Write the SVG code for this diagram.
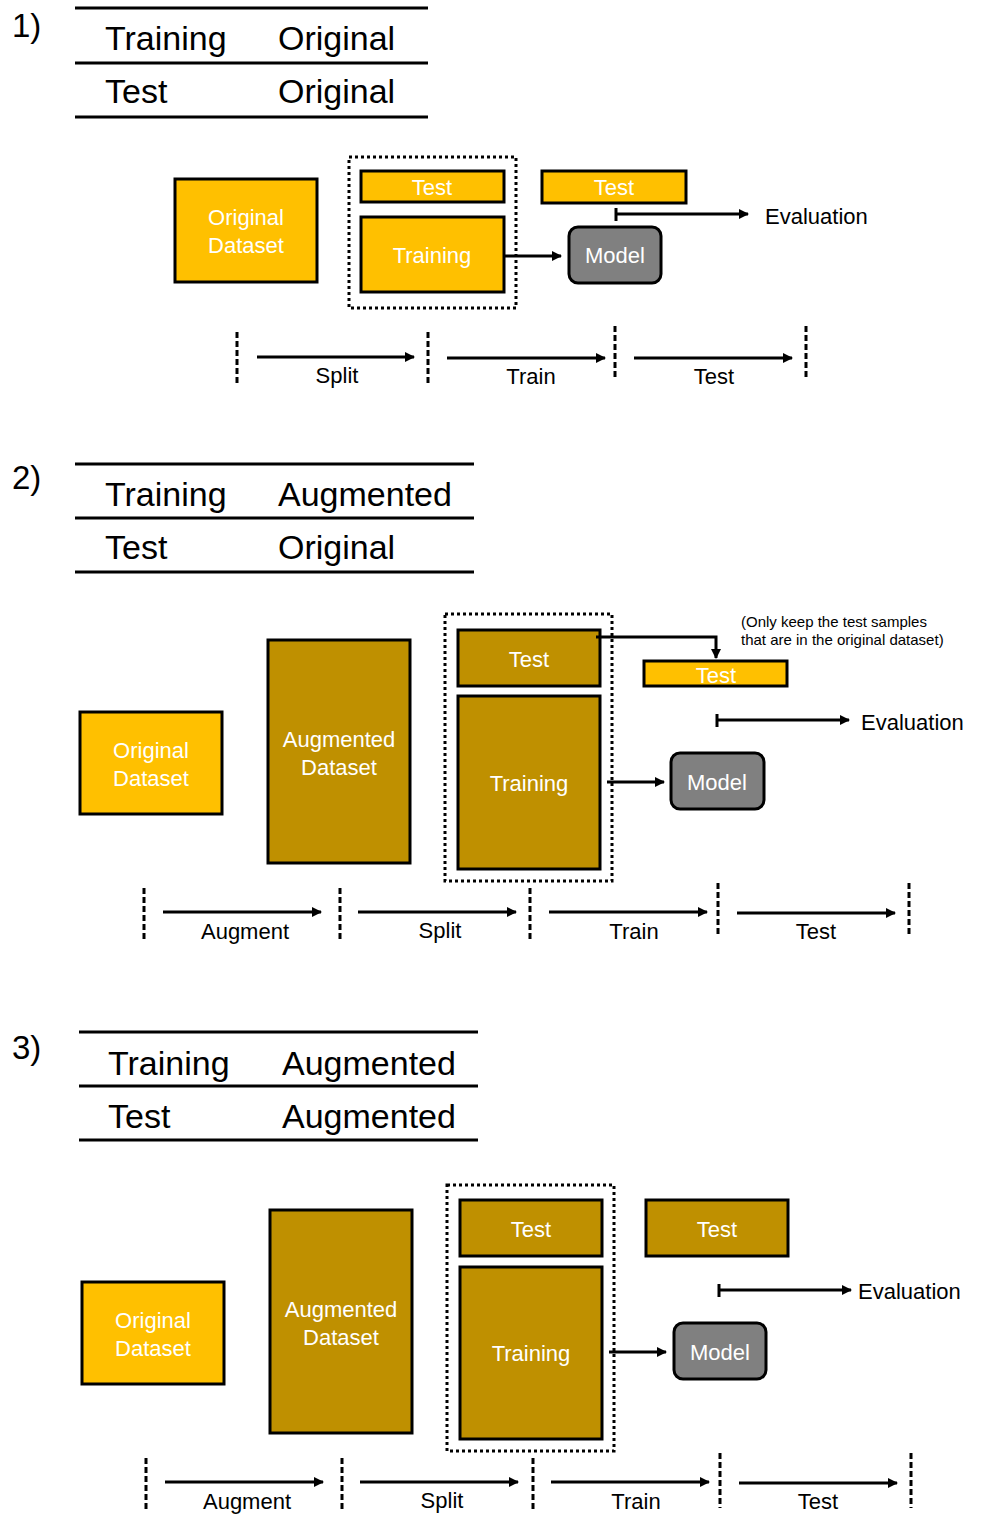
<svg xmlns="http://www.w3.org/2000/svg" width="983" height="1516" viewBox="0 0 983 1516">
<defs>
<marker id="ah" viewBox="0 0 10 10" refX="9" refY="5" markerWidth="3.4" markerHeight="3.4" orient="auto" markerUnits="strokeWidth"><path d="M0,0 L10,5 L0,10 z" fill="#000"/></marker>
<style>
text{font-family:"Liberation Sans",Arial,sans-serif;}
.num{font-size:33px;fill:#000;}
.tbl{font-size:34px;fill:#000;}
.rule{stroke:#000;stroke-width:3;}
.lt{fill:#FFC000;stroke:#000;stroke-width:3;}
.dk{fill:#BF9000;stroke:#000;stroke-width:3;}
.mdl{fill:#808080;stroke:#000;stroke-width:3;}
.bt{font-size:22px;fill:#fff;text-anchor:middle;}
.lbl{font-size:22px;fill:#000;text-anchor:middle;}
.ev{font-size:22px;fill:#000;}
.note{font-size:15px;fill:#000;}
.dot{fill:none;stroke:#000;stroke-width:3;stroke-dasharray:3 3;}
.dash{stroke:#000;stroke-width:3;stroke-dasharray:6 3;}
.arr{stroke:#000;stroke-width:3;fill:none;marker-end:url(#ah);}
.ln{stroke:#000;stroke-width:3;fill:none;}
</style>
</defs>
<rect width="983" height="1516" fill="#fff"/>

<!-- Section 1 -->
<g id="sec1-table">
<text class="num" x="12" y="37">1)</text>
<line class="rule" x1="75" y1="8" x2="428" y2="8"/>
<line class="rule" x1="75" y1="63" x2="428" y2="63"/>
<line class="rule" x1="75" y1="117" x2="428" y2="117"/>
<text class="tbl" x="105" y="50">Training</text>
<text class="tbl" x="278" y="50">Original</text>
<text class="tbl" x="105" y="103">Test</text>
<text class="tbl" x="278" y="103">Original</text>
</g>
<g id="s1-original"><rect class="lt" x="175" y="179" width="142" height="103"/><text class="bt" x="246" y="225">Original</text><text class="bt" x="246" y="253">Dataset</text></g>
<g id="s1-split"><rect class="dot" x="349" y="157" width="167" height="151"/></g>
<g id="s1-test"><rect class="lt" x="361" y="171" width="143" height="31"/><text class="bt" x="432" y="195">Test</text></g>
<g id="s1-training"><rect class="lt" x="361" y="217" width="143" height="75"/><text class="bt" x="432" y="263">Training</text></g>
<g id="s1-test2"><rect class="lt" x="542" y="171" width="144" height="32"/><text class="bt" x="614" y="195">Test</text></g>
<g id="s1-model"><rect class="mdl" x="569" y="227" width="92" height="56" rx="9"/><text class="bt" x="615" y="263">Model</text></g>
<g id="s1-eval"><text class="ev" x="765" y="224">Evaluation</text></g>
<g id="s1-timeline">
<text class="lbl" x="337" y="383">Split</text>
<text class="lbl" x="531" y="384">Train</text>
<text class="lbl" x="714" y="384">Test</text>
</g>
<g id="s1-connectors">
<line class="arr" x1="504" y1="256" x2="561" y2="256"/>
<line class="ln" x1="616" y1="208" x2="616" y2="221"/>
<line class="arr" x1="616" y1="214" x2="748" y2="214"/>
<line class="dash" x1="237" y1="332" x2="237" y2="386"/>
<line class="dash" x1="428" y1="332" x2="428" y2="386"/>
<line class="dash" x1="615" y1="326" x2="615" y2="380"/>
<line class="dash" x1="806" y1="326" x2="806" y2="380"/>
<line class="arr" x1="257" y1="357" x2="414" y2="357"/>
<line class="arr" x1="447" y1="358" x2="605" y2="358"/>
<line class="arr" x1="634" y1="358" x2="792" y2="358"/>
</g>

<!-- Section 2 -->
<g id="sec2-table">
<text class="num" x="12" y="489">2)</text>
<line class="rule" x1="75" y1="464" x2="474" y2="464"/>
<line class="rule" x1="75" y1="518" x2="474" y2="518"/>
<line class="rule" x1="75" y1="572" x2="474" y2="572"/>
<text class="tbl" x="105" y="506">Training</text>
<text class="tbl" x="278" y="506">Augmented</text>
<text class="tbl" x="105" y="559">Test</text>
<text class="tbl" x="278" y="559">Original</text>
</g>
<g id="s2-original"><rect class="lt" x="80" y="712" width="142" height="102"/><text class="bt" x="151" y="758">Original</text><text class="bt" x="151" y="786">Dataset</text></g>
<g id="s2-augmented"><rect class="dk" x="268" y="640" width="142" height="223"/><text class="bt" x="339" y="747">Augmented</text><text class="bt" x="339" y="775">Dataset</text></g>
<g id="s2-split"><rect class="dot" x="445" y="614" width="167" height="267"/></g>
<g id="s2-test"><rect class="dk" x="458" y="630" width="142" height="56"/><text class="bt" x="529" y="667">Test</text></g>
<g id="s2-training"><rect class="dk" x="458" y="696" width="142" height="173"/><text class="bt" x="529" y="791">Training</text></g>
<g id="s2-test2"><rect class="lt" x="644" y="661" width="143" height="25"/><text class="bt" x="716" y="683">Test</text></g>
<g id="s2-note"><text class="note" x="741" y="627">(Only keep the test samples</text><text class="note" x="741" y="645">that are in the original dataset)</text></g>
<g id="s2-model"><rect class="mdl" x="671" y="753" width="93" height="56" rx="9"/><text class="bt" x="717" y="790">Model</text></g>
<g id="s2-eval"><text class="ev" x="861" y="730">Evaluation</text></g>
<g id="s2-timeline">
<text class="lbl" x="245" y="939">Augment</text>
<text class="lbl" x="440" y="938">Split</text>
<text class="lbl" x="634" y="939">Train</text>
<text class="lbl" x="816" y="939">Test</text>
</g>
<g id="s2-connectors">
<path class="arr" d="M596,637 H716 V658"/>
<line class="arr" x1="607" y1="782" x2="664" y2="782"/>
<line class="ln" x1="717" y1="714" x2="717" y2="727"/>
<line class="arr" x1="717" y1="720" x2="849" y2="720"/>
<line class="dash" x1="144" y1="888" x2="144" y2="942"/>
<line class="dash" x1="340" y1="888" x2="340" y2="942"/>
<line class="dash" x1="530" y1="888" x2="530" y2="942"/>
<line class="dash" x1="718" y1="883" x2="718" y2="937"/>
<line class="dash" x1="909" y1="883" x2="909" y2="937"/>
<line class="arr" x1="163" y1="912" x2="321" y2="912"/>
<line class="arr" x1="358" y1="912" x2="516" y2="912"/>
<line class="arr" x1="549" y1="912" x2="707" y2="912"/>
<line class="arr" x1="737" y1="913" x2="895" y2="913"/>
</g>

<!-- Section 3 -->
<g id="sec3-table">
<text class="num" x="12" y="1059">3)</text>
<line class="rule" x1="79" y1="1032" x2="478" y2="1032"/>
<line class="rule" x1="79" y1="1086" x2="478" y2="1086"/>
<line class="rule" x1="79" y1="1140" x2="478" y2="1140"/>
<text class="tbl" x="108" y="1075">Training</text>
<text class="tbl" x="282" y="1075">Augmented</text>
<text class="tbl" x="108" y="1128">Test</text>
<text class="tbl" x="282" y="1128">Augmented</text>
</g>
<g id="s3-original"><rect class="lt" x="82" y="1282" width="142" height="102"/><text class="bt" x="153" y="1328">Original</text><text class="bt" x="153" y="1356">Dataset</text></g>
<g id="s3-augmented"><rect class="dk" x="270" y="1210" width="142" height="223"/><text class="bt" x="341" y="1317">Augmented</text><text class="bt" x="341" y="1345">Dataset</text></g>
<g id="s3-split"><rect class="dot" x="447" y="1185" width="167" height="266"/></g>
<g id="s3-test"><rect class="dk" x="460" y="1200" width="142" height="56"/><text class="bt" x="531" y="1237">Test</text></g>
<g id="s3-training"><rect class="dk" x="460" y="1267" width="142" height="172"/><text class="bt" x="531" y="1361">Training</text></g>
<g id="s3-test2"><rect class="dk" x="646" y="1200" width="142" height="56"/><text class="bt" x="717" y="1237">Test</text></g>
<g id="s3-model"><rect class="mdl" x="674" y="1323" width="92" height="56" rx="9"/><text class="bt" x="720" y="1360">Model</text></g>
<g id="s3-eval"><text class="ev" x="858" y="1299">Evaluation</text></g>
<g id="s3-timeline">
<text class="lbl" x="247" y="1509">Augment</text>
<text class="lbl" x="442" y="1508">Split</text>
<text class="lbl" x="636" y="1509">Train</text>
<text class="lbl" x="818" y="1509">Test</text>
</g>
<g id="s3-connectors">
<line class="arr" x1="609" y1="1352" x2="666" y2="1352"/>
<line class="ln" x1="719" y1="1284" x2="719" y2="1297"/>
<line class="arr" x1="719" y1="1290" x2="851" y2="1290"/>
<line class="dash" x1="146" y1="1458" x2="146" y2="1512"/>
<line class="dash" x1="342" y1="1458" x2="342" y2="1512"/>
<line class="dash" x1="533" y1="1458" x2="533" y2="1512"/>
<line class="dash" x1="720" y1="1453" x2="720" y2="1508"/>
<line class="dash" x1="911" y1="1453" x2="911" y2="1508"/>
<line class="arr" x1="165" y1="1482" x2="323" y2="1482"/>
<line class="arr" x1="360" y1="1482" x2="518" y2="1482"/>
<line class="arr" x1="551" y1="1482" x2="709" y2="1482"/>
<line class="arr" x1="739" y1="1483" x2="897" y2="1483"/>
</g>
</svg>
